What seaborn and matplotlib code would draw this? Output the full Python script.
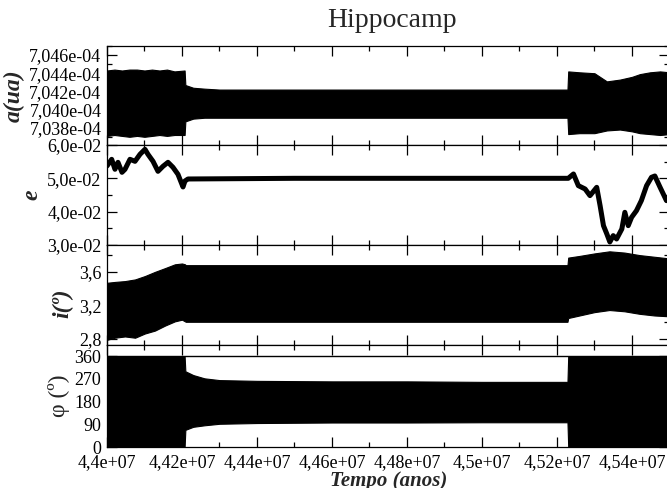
import numpy as np
import matplotlib
matplotlib.use("Agg")
import matplotlib.pyplot as plt
import seaborn as sns
from matplotlib.ticker import MultipleLocator, FuncFormatter

# --- values (tempo in units of 1e7 anos) ---
# a(ua) envelope (units of 1e-4 ua)
a_t = [4.4000, 4.4020, 4.4040, 4.4060, 4.4080, 4.4100, 4.4120, 4.4140, 4.4160, 4.4180, 4.4207,
       4.4209, 4.4230, 4.4260, 4.4300, 4.4500, 4.4700, 4.4900, 4.5100, 4.5228,
       4.5230, 4.5260, 4.5300, 4.5333, 4.5368, 4.5400, 4.5421, 4.5448, 4.5475, 4.5500]
a_hi = [7.0443, 7.0444, 7.0443, 7.0444, 7.0444, 7.0443, 7.0444, 7.0443, 7.0444, 7.0442, 7.0443,
        7.0427, 7.0424, 7.0423, 7.0422, 7.0422, 7.0422, 7.0422, 7.0422, 7.0422,
        7.0442, 7.0441, 7.0440, 7.0431, 7.0433, 7.0436, 7.0439, 7.0441, 7.0442, 7.0441]
a_lo = [7.0371, 7.0372, 7.0371, 7.0370, 7.0371, 7.0370, 7.0371, 7.0372, 7.0371, 7.0372, 7.0372,
        7.0387, 7.0390, 7.0391, 7.0391, 7.0391, 7.0391, 7.0391, 7.0391, 7.0391,
        7.0373, 7.0374, 7.0374, 7.0377, 7.0378, 7.0376, 7.0374, 7.0373, 7.0372, 7.0373]

# eccentricity
e_t = [4.4000, 4.40125, 4.40213, 4.40293, 4.4040, 4.4048, 4.40613, 4.40747, 4.4088, 4.41013,
       4.41093, 4.41227, 4.4136, 4.41493, 4.41627, 4.4176, 4.41893, 4.42027, 4.4208, 4.4216,
       4.4500, 4.5000, 4.5230, 4.5244, 4.5257, 4.5275, 4.5288, 4.5306, 4.5315, 4.5324,
       4.5333, 4.5341, 4.5350, 4.5359, 4.5373, 4.5381, 4.5390, 4.5399, 4.5412, 4.5425,
       4.5439, 4.5452, 4.5461, 4.5475, 4.5492, 4.5500]
e_val = [0.0537, 0.0557, 0.0527, 0.0548, 0.0518, 0.0527, 0.0557, 0.0551, 0.0572, 0.0587,
         0.0572, 0.0551, 0.0521, 0.0536, 0.0548, 0.0533, 0.0512, 0.0474, 0.0492, 0.0498,
         0.0500, 0.0500, 0.0500, 0.0513, 0.0478, 0.0468, 0.0448, 0.0473, 0.0418, 0.0358,
         0.0333, 0.0309, 0.0328, 0.0318, 0.0348, 0.0398, 0.0358, 0.0383, 0.0403, 0.0433,
         0.0478, 0.0503, 0.0507, 0.0473, 0.0433, 0.0440]

# inclination envelope (graus)
i_t = [4.4000, 4.4021, 4.4048, 4.4075, 4.4101, 4.4128, 4.4155, 4.4181, 4.4200, 4.4208,
       4.4210, 4.4500, 4.5000, 4.5228,
       4.5230, 4.5260, 4.5300, 4.5340, 4.5380, 4.5420, 4.5460, 4.5500]
i_hi = [3.47, 3.48, 3.49, 3.51, 3.55, 3.60, 3.645, 3.69, 3.70, 3.69,
        3.68, 3.68, 3.68, 3.68,
        3.77, 3.79, 3.82, 3.845, 3.83, 3.80, 3.78, 3.76]
i_lo = [2.79, 2.815, 2.83, 2.815, 2.865, 2.90, 2.96, 3.01, 3.03, 3.01,
        3.005, 3.005, 3.005, 3.005,
        3.05, 3.08, 3.12, 3.145, 3.13, 3.10, 3.08, 3.07]

# resonant angle envelope (graus)
p_t = [4.4000, 4.4207, 4.4209, 4.4230, 4.4260, 4.4300, 4.4400, 4.4600, 4.4800, 4.5000, 4.5228, 4.5230, 4.5500]
p_hi = [360, 360, 300, 285, 272, 265, 262, 260, 260, 258, 258, 360, 360]
p_lo = [0, 0, 68, 80, 86, 92, 95, 97, 97, 98, 98, 0, 0]

sns.set_theme(style="ticks")
plt.rcParams['font.family'] = ['Liberation Serif', 'DejaVu Serif']

fig = plt.figure(figsize=(6.67, 4.88), dpi=100)
left, width = 0.1604, 0.8433
ax1 = fig.add_axes([left, 0.7029, width, 0.2029])
ax2 = fig.add_axes([left, 0.4980, width, 0.2049])
ax3 = fig.add_axes([left, 0.2930, width, 0.2049])
ax4 = fig.add_axes([left, 0.0840, width, 0.2090])
axes = [ax1, ax2, ax3, ax4]

ax1.fill_between(np.array(a_t) * 1e7, np.array(a_lo) * 1e-4, np.array(a_hi) * 1e-4,
                 color='black', linewidth=0.8)
sns.lineplot(x=np.array(e_t) * 1e7, y=e_val, ax=ax2, color='black', linewidth=3.6, sort=False)
ax3.fill_between(np.array(i_t) * 1e7, i_lo, i_hi, color='black', linewidth=0.8)
ax4.fill_between(np.array(p_t) * 1e7, p_lo, p_hi, color='black', linewidth=0.8)
ax4.axhline(360, color='black', linewidth=1)

ax1.set_ylim(7.0361e-4, 7.0470e-4)
ax1.yaxis.set_major_locator(MultipleLocator(0.002e-4))
ax1.yaxis.set_minor_locator(MultipleLocator(0.001e-4))
ax1.yaxis.set_major_formatter(FuncFormatter(lambda v, p: f"{v * 1e4:.3f}".replace('.', ',') + "e-04"))

ax2.set_ylim(0.03, 0.06)
ax2.yaxis.set_major_locator(MultipleLocator(0.01))
ax2.yaxis.set_minor_locator(MultipleLocator(0.005))
ax2.yaxis.set_major_formatter(FuncFormatter(lambda v, p: f"{v * 100:.1f}".replace('.', ',') + "e-02"))

ax3.set_ylim(2.728, 3.92)
ax3.yaxis.set_major_locator(MultipleLocator(0.4))
ax3.yaxis.set_minor_locator(MultipleLocator(0.2))
ax3.yaxis.set_major_formatter(FuncFormatter(lambda v, p: f"{v:.1f}".replace('.', ',')))

ax4.set_ylim(0, 404)
ax4.yaxis.set_major_locator(MultipleLocator(90))
ax4.yaxis.set_minor_locator(MultipleLocator(45))
ax4.yaxis.set_major_formatter(FuncFormatter(lambda v, p: f"{v:.0f}" if v <= 360 else ""))

for ax in axes:
    ax.set_xlim(4.4e7, 4.55e7)
    ax.xaxis.set_major_locator(MultipleLocator(2e5))
    ax.xaxis.set_minor_locator(MultipleLocator(1e5))
    ax.tick_params(which='both', direction='in', top=True, right=True, colors='black',
                   labelsize=13, pad=4)
    ax.tick_params(which='major', length=7, width=0.9)
    ax.tick_params(which='minor', length=3.5, width=0.9)
    for s in ax.spines.values():
        s.set_linewidth(0.9)
        s.set_color('black')
    ax.set_xlabel('')
    ax.set_ylabel('')
    if ax is not ax4:
        ax.tick_params(labelbottom=False)

ax4.xaxis.set_major_formatter(FuncFormatter(
    lambda v, p: f"{round(v / 1e7, 4):g}".replace('.', ',') + "e+07"))
ax4.tick_params(axis='x', pad=5)

ax1.set_ylabel('a(ua)', fontsize=17, fontweight='bold', style='italic')
ax1.yaxis.set_label_coords(-0.146, 0.5)
ax2.set_ylabel('e', fontsize=17, fontweight='bold', style='italic')
ax2.yaxis.set_label_coords(-0.114, 0.5)
ax3.set_ylabel('i(º)', fontsize=17, fontweight='bold', style='italic')
ax3.yaxis.set_label_coords(-0.060, 0.42)
ax4.set_ylabel('φ (º)', fontsize=17)
ax4.yaxis.set_label_coords(-0.066, 0.5)

fig.text(0.588, 0.959, 'Hippocamp', fontsize=20, ha='center', va='center')
fig.text(0.582, 0.015, 'Tempo (anos)', fontsize=15, fontweight='bold', style='italic',
         ha='center', va='center')

plt.savefig('out.png', dpi=100)
